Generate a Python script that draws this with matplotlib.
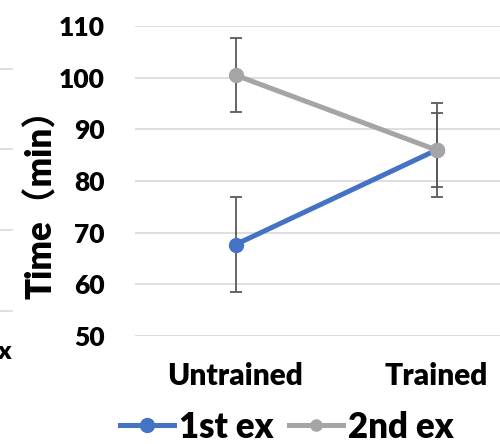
import matplotlib
matplotlib.use("Agg")
import matplotlib.pyplot as plt
from matplotlib.lines import Line2D

plt.rcParams['font.family'] = ['Lato', 'Noto Sans CJK SC', 'DejaVu Sans']
W = 'heavy'
plt.rcParams['font.weight'] = W

categories = ["Untrained", "Trained"]
series_names = ["1st ex", "2nd ex"]
first_ex = [67.7, 86.0]
first_err = [9.2, 9.1]
second_ex = [100.5, 86.0]
second_err = [7.2, 7.2]
yticks = [50, 60, 70, 80, 90, 100, 110]

colors = ["#4472C4", "#A5A5A5"]
err_color = "#5A5A5A"

fig = plt.figure(figsize=(5.0, 4.44), dpi=100)
ax = fig.add_axes([0.27, 0.2432, 0.804, 0.6982])

x = list(range(len(categories)))
for vals, errs, c, name in [(first_ex, first_err, colors[0], series_names[0]),
                            (second_ex, second_err, colors[1], series_names[1])]:
    ax.errorbar(x, vals, yerr=errs, fmt='none', ecolor=err_color, elinewidth=1.3,
                capsize=4, capthick=1.3, zorder=2)
    ax.plot(x, vals, color=c, lw=3.6, marker='o', markersize=10, zorder=3,
            solid_capstyle='round', label=name)

ax.set_xlim(-0.5, 1.5)
ax.set_ylim(50, 110)
ax.set_yticks(yticks)
ax.set_xticks(x)
ax.set_xticklabels(categories, fontsize=21.5, fontweight=W)
ax.tick_params(axis='y', labelsize=19, length=0, pad=22)
ax.tick_params(axis='x', length=0, pad=19)
for lbl in ax.get_yticklabels():
    lbl.set_fontweight(W)
ax.grid(axis='y', color='#D9D9D9', lw=1.2)
ax.set_axisbelow(True)
for s in ax.spines.values():
    s.set_visible(False)

fig.text(0.082, 0.56, "Time（min）", rotation=90, ha='center', va='center',
         fontsize=25, fontweight=W,
         family=['Lato', 'Noto Sans CJK SC', 'DejaVu Sans'])

handles = [Line2D([], [], color=colors[0], lw=3.6, marker='o', markersize=10),
           Line2D([], [], color=colors[1], lw=3.6, marker='o', markersize=8)]
fig.legend(handles, series_names, loc='center', bbox_to_anchor=(0.574, 0.038),
           ncol=2, frameon=False, prop={'size': 25, 'weight': W},
           handlelength=1.55, handletextpad=0.15, columnspacing=0.45,
           borderpad=0, borderaxespad=0)

# fragments of the neighbouring chart at the left edge
for yy in [69, 149, 230, 311]:
    fig.add_artist(Line2D([0, 12 / 500], [1 - yy / 444, 1 - yy / 444],
                          color='#D9D9D9', lw=1.2))
fig.text(-0.006, 1 - 352 / 444, "x", fontsize=18, fontweight=W,
         ha='left', va='center')

fig.savefig("out.png", dpi=100)
